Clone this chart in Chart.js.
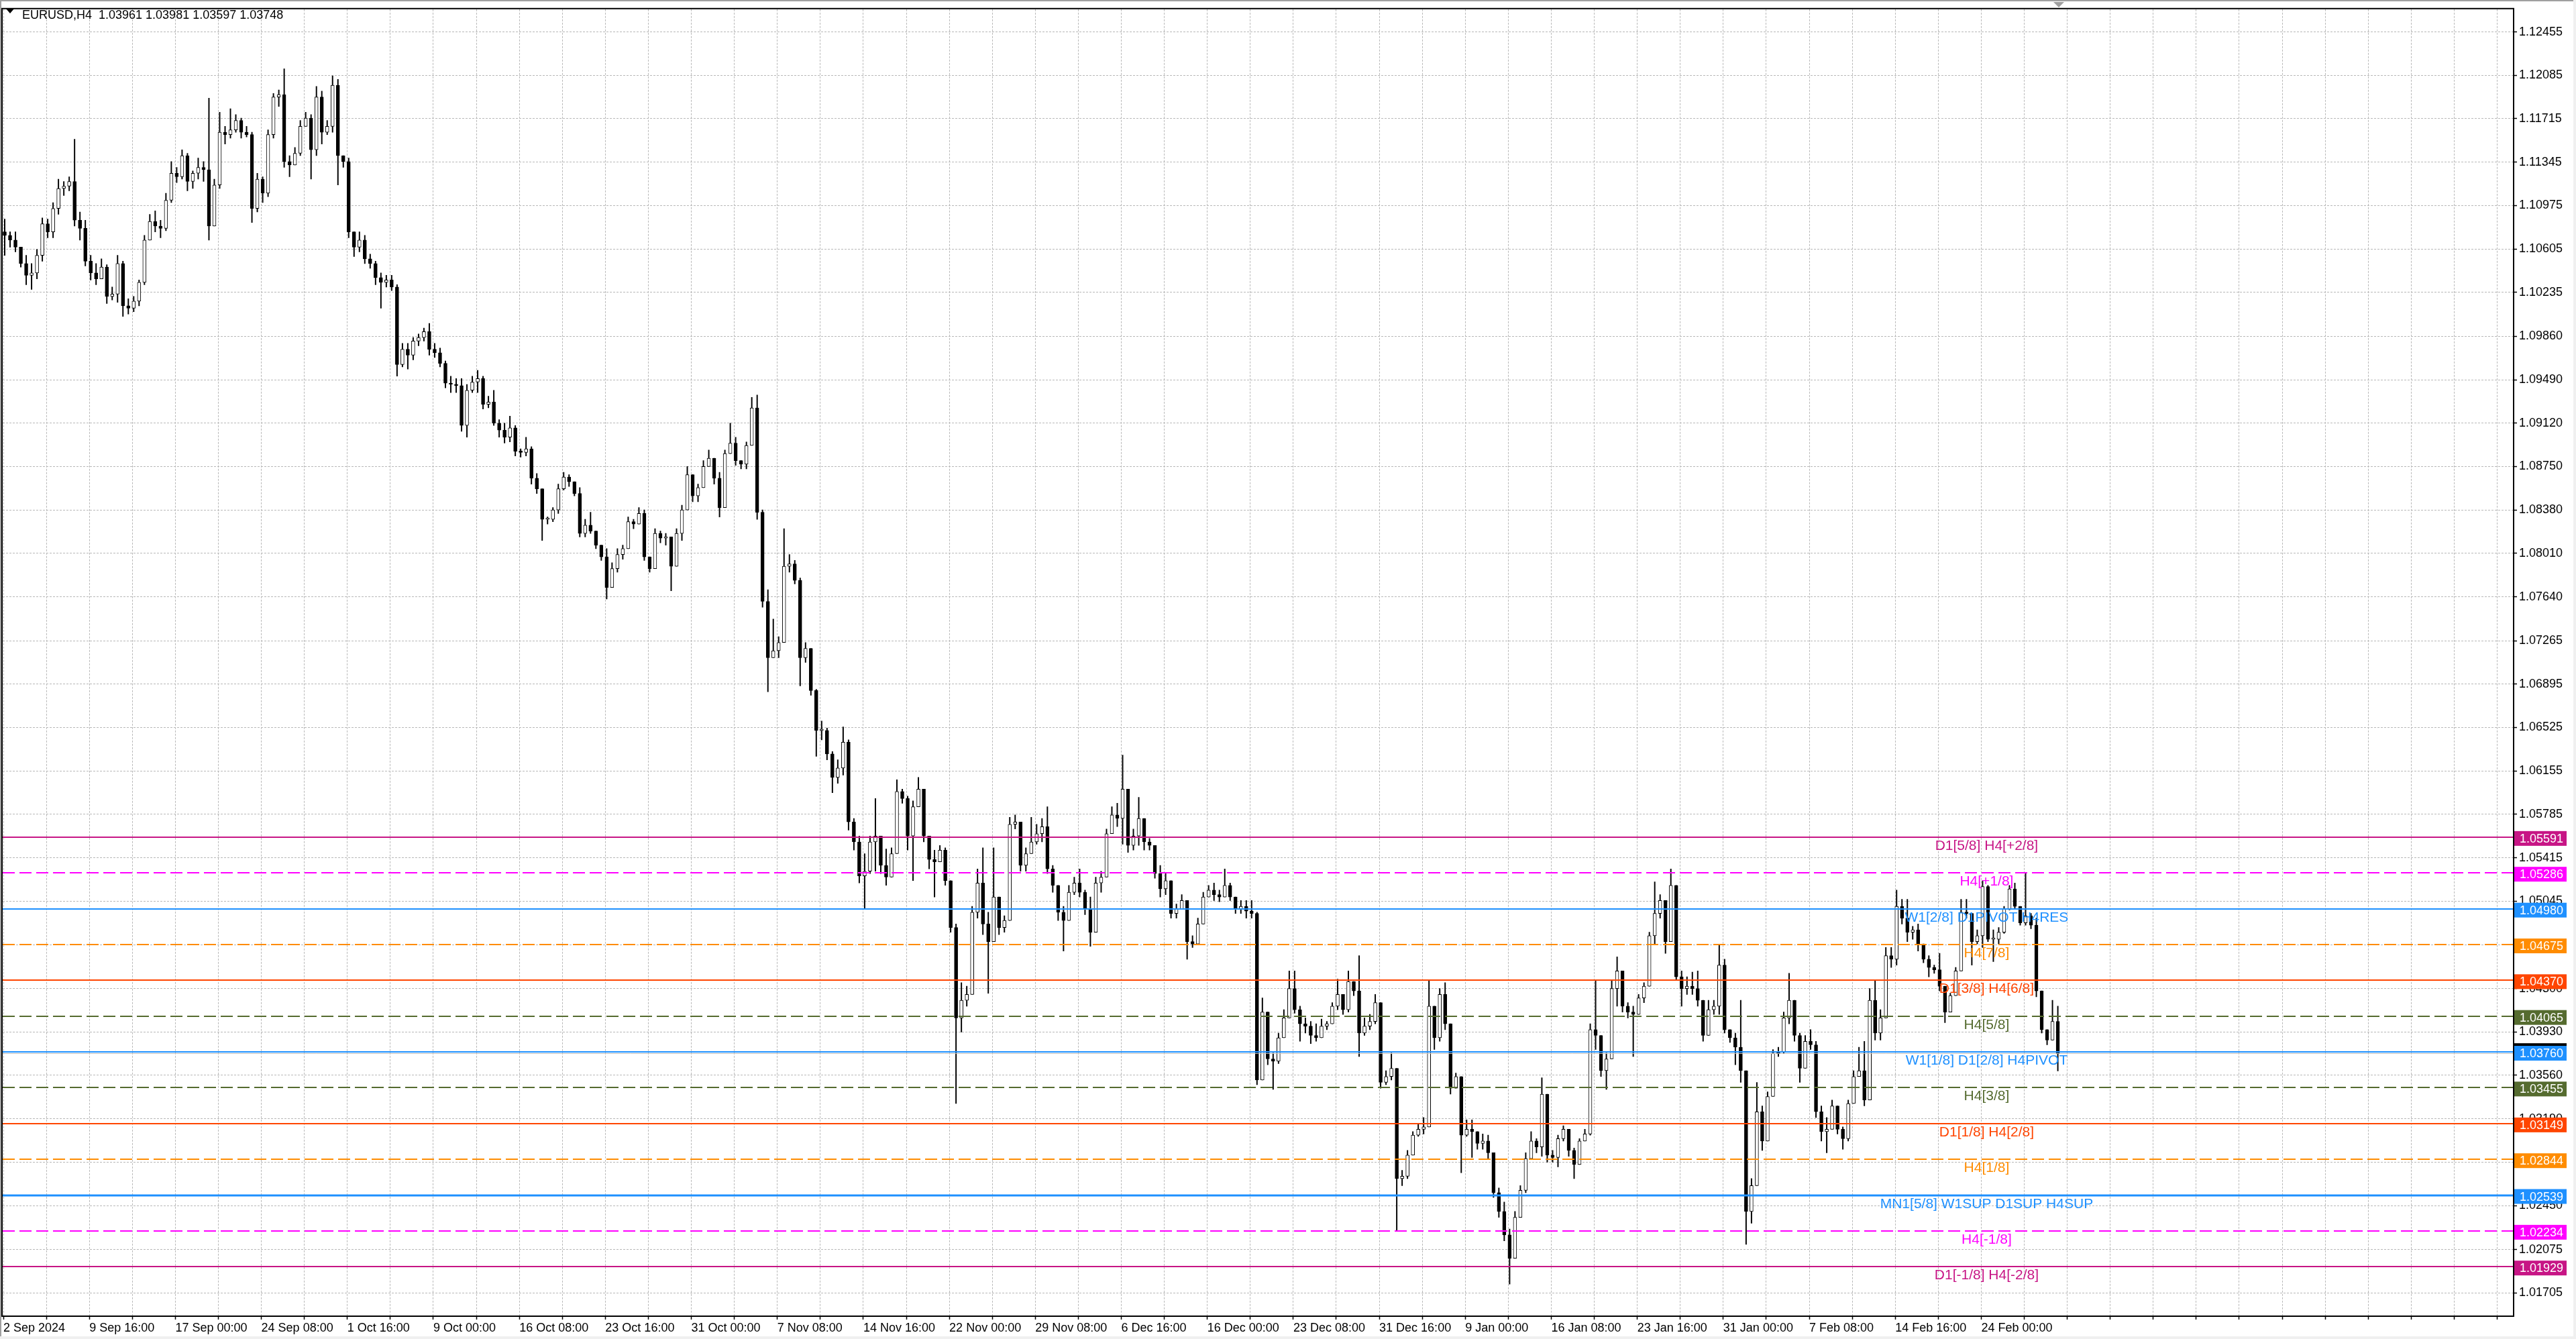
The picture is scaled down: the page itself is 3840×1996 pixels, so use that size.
<!DOCTYPE html>
<html>
<head>
<meta charset="utf-8">
<title>EURUSD,H4</title>
<script src="https://cdn.jsdelivr.net/npm/chart.js@4.4.1/dist/chart.umd.min.js"></script>
<style>
  html, body { margin: 0; padding: 0; background: #fff; overflow: hidden; }
  canvas { display: block; }
</style>
</head>
<body>
<canvas id="chart" width="3840" height="1996"></canvas>
<script>
// header of the chart window
const symbol = 'EURUSD,H4';
const lastBarOHLC = [1.03961, 1.03981, 1.03597, 1.03748];

// time axis labels, one every 32 H4 bars
const dateLabels = ['2 Sep 2024', '9 Sep 16:00', '17 Sep 00:00', '24 Sep 08:00', '1 Oct 16:00', '9 Oct 00:00',
  '16 Oct 08:00', '23 Oct 16:00', '31 Oct 00:00', '7 Nov 08:00', '14 Nov 16:00', '22 Nov 00:00',
  '29 Nov 08:00', '6 Dec 16:00', '16 Dec 00:00', '23 Dec 08:00', '31 Dec 16:00', '9 Jan 00:00',
  '16 Jan 08:00', '23 Jan 16:00', '31 Jan 00:00', '7 Feb 08:00', '14 Feb 16:00', '24 Feb 00:00'];

// price scale labels
const priceTicks = [1.12455, 1.12085, 1.11715, 1.11345, 1.10975, 1.10605, 1.10235, 1.09860, 1.09490, 1.09120,
  1.08750, 1.08380, 1.08010, 1.07640, 1.07265, 1.06895, 1.06525, 1.06155, 1.05785, 1.05415, 1.05045,
  1.04675, 1.04300, 1.03930, 1.03560, 1.03190, 1.02820, 1.02450, 1.02075, 1.01705];

// candles, each one covers two H4 bars
const firstOpen = 1.1075;
const highs = [
  1.1086,1.1075,1.1075,1.1062,1.1055,1.1048,1.1060,1.1087,1.1086,1.1100,
  1.1120,1.1118,1.1122,1.1154,1.1092,1.1085,1.1055,1.1048,1.1052,1.1047,
  1.1028,1.1055,1.1050,1.1018,1.1020,1.1034,1.1072,1.1090,1.1093,1.1085,
  1.1108,1.1135,1.1130,1.1145,1.1142,1.1127,1.1138,1.1135,1.1189,1.1120,
  1.1177,1.1165,1.1180,1.1175,1.1172,1.1165,1.1160,1.1125,1.1122,1.1162,
  1.1193,1.1196,1.1214,1.1140,1.1147,1.1170,1.1177,1.1175,1.1199,1.1195,
  1.1170,1.1208,1.1205,1.1140,1.1138,1.1075,1.1075,1.1072,1.1056,1.1050,
  1.1040,1.1038,1.1038,1.1030,1.0980,1.0980,1.0985,1.0988,1.0993,1.0997,
  1.0980,1.0976,1.0965,1.0952,1.0950,1.0950,1.0945,1.0952,1.0957,1.0952,
  1.0935,1.0940,1.0915,1.0912,1.0918,1.0910,1.0890,1.0900,1.0892,1.0869,
  1.0855,1.0832,1.0840,1.0860,1.0870,1.0868,1.0860,1.0857,1.0830,1.0836,
  1.0820,1.0808,1.0805,1.0793,1.0805,1.0808,1.0832,1.0830,1.0840,1.0838,
  1.0792,1.0822,1.0820,1.0818,1.0815,1.0822,1.0842,1.0875,1.0866,1.0860,
  1.0880,1.0889,1.0882,1.0870,1.0889,1.0912,1.0900,1.0880,1.0896,1.0934,
  1.0936,1.0838,1.0770,1.0745,1.0730,1.0822,1.0800,1.0795,1.0780,1.0725,
  1.0718,1.0685,1.0658,1.0652,1.0632,1.0625,1.0653,1.0642,1.0575,1.0560,
  1.0545,1.0560,1.0592,1.0552,1.0549,1.0550,1.0608,1.0600,1.0594,1.0590,
  1.0610,1.0600,1.0555,1.0548,1.0552,1.0550,1.0522,1.0485,1.0435,1.0432,
  1.0500,1.0532,1.0550,1.0495,1.0550,1.0500,1.0492,1.0576,1.0578,1.0560,
  1.0550,1.0576,1.0570,1.0575,1.0585,1.0535,1.0518,1.0500,1.0518,1.0525,
  1.0532,1.0514,1.0508,1.0525,1.0530,1.0566,1.0585,1.0588,1.0629,1.0560,
  1.0566,1.0593,1.0566,1.0558,1.0535,1.0535,1.0528,1.0512,1.0502,1.0510,
  1.0500,1.0475,1.0490,1.0512,1.0518,1.0520,1.0514,1.0532,1.0520,1.0508,
  1.0505,1.0505,1.0505,1.0495,1.0422,1.0400,1.0375,1.0392,1.0412,1.0445,
  1.0445,1.0415,1.0405,1.0402,1.0400,1.0404,1.0402,1.0418,1.0438,1.0420,
  1.0445,1.0434,1.0458,1.0405,1.0408,1.0425,1.0418,1.0360,1.0375,1.0360,
  1.0275,1.0292,1.0308,1.0315,1.0320,1.0437,1.0395,1.0430,1.0435,1.0370,
  1.0358,1.0340,1.0318,1.0318,1.0308,1.0306,1.0305,1.0290,1.0260,1.0248,
  1.0225,1.0240,1.0262,1.0290,1.0308,1.0302,1.0354,1.0295,1.0292,1.0305,
  1.0313,1.0302,1.0294,1.0302,1.0310,1.0400,1.0437,1.0380,1.0375,1.0437,
  1.0457,1.0432,1.0418,1.0415,1.0425,1.0435,1.0478,1.0521,1.0510,1.0488,
  1.0532,1.0510,1.0445,1.0440,1.0444,1.0445,1.0418,1.0420,1.0420,1.0467,
  1.0455,1.0395,1.0392,1.0420,1.0360,1.0268,1.0350,1.0330,1.0342,1.0378,
  1.0380,1.0410,1.0443,1.0405,1.0392,1.0390,1.0395,1.0385,1.0330,1.0320,
  1.0335,1.0325,1.0312,1.0335,1.0360,1.0380,1.0385,1.0430,1.0437,1.0412,
  1.0465,1.0465,1.0514,1.0506,1.0506,1.0483,1.0485,1.0465,1.0458,1.0450,
  1.0460,1.0430,1.0426,1.0448,1.0506,1.0506,1.0492,1.0480,1.0522,1.0518,
  1.0480,1.0482,1.0500,1.0518,1.0520,1.0500,1.0529,1.0494,1.0490,1.0428,
  1.0395,1.0420,1.0415
];
const lows = [
  1.1055,1.1062,1.1058,1.1045,1.1030,1.1026,1.1035,1.1050,1.1070,1.1070,
  1.1090,1.1106,1.1110,1.1080,1.1068,1.1046,1.1034,1.1030,1.1035,1.1014,
  1.1017,1.1015,1.1003,1.1005,1.1007,1.1012,1.1030,1.1068,1.1075,1.1070,
  1.1076,1.1100,1.1117,1.1120,1.1110,1.1112,1.1120,1.1118,1.1068,1.1080,
  1.1112,1.1150,1.1155,1.1160,1.1155,1.1156,1.1083,1.1092,1.1100,1.1105,
  1.1155,1.1182,1.1130,1.1122,1.1132,1.1140,1.1165,1.1120,1.1140,1.1150,
  1.1158,1.1160,1.1115,1.1130,1.1070,1.1054,1.1058,1.1048,1.1044,1.1030,
  1.1010,1.1028,1.1025,1.0952,1.0960,1.0958,1.0966,1.0978,1.0982,1.0970,
  1.0968,1.0960,1.0942,1.0938,1.0938,1.0905,1.0900,1.0938,1.0938,1.0924,
  1.0925,1.0910,1.0900,1.0895,1.0896,1.0884,1.0883,1.0884,1.0860,1.0852,
  1.0812,1.0826,1.0828,1.0835,1.0855,1.0858,1.0850,1.0815,1.0815,1.0818,
  1.0805,1.0795,1.0762,1.0772,1.0785,1.0796,1.0805,1.0822,1.0826,1.0795,
  1.0785,1.0790,1.0810,1.0808,1.0769,1.0805,1.0812,1.0855,1.0845,1.0845,
  1.0864,1.0876,1.0860,1.0832,1.0866,1.0888,1.0876,1.0873,1.0873,1.0894,
  1.0830,1.0755,1.0683,1.0712,1.0712,1.0730,1.0785,1.0775,1.0688,1.0708,
  1.0680,1.0628,1.0642,1.0625,1.0597,1.0605,1.0612,1.0565,1.0548,1.0520,
  1.0498,1.0528,1.0530,1.0528,1.0518,1.0538,1.0565,1.0588,1.0548,1.0522,
  1.0588,1.0555,1.0532,1.0508,1.0542,1.0518,1.0478,1.0332,1.0393,1.0415,
  1.0452,1.0490,1.0476,1.0426,1.0494,1.0476,1.0478,1.0515,1.0566,1.0530,
  1.0530,1.0548,1.0553,1.0555,1.0528,1.0512,1.0488,1.0462,1.0505,1.0510,
  1.0508,1.0493,1.0466,1.0508,1.0512,1.0525,1.0568,1.0568,1.0553,1.0546,
  1.0548,1.0552,1.0548,1.0548,1.0524,1.0508,1.0510,1.0490,1.0490,1.0500,
  1.0455,1.0465,1.0475,1.0490,1.0508,1.0505,1.0504,1.0510,1.0505,1.0494,
  1.0494,1.0490,1.0490,1.0348,1.0380,1.0365,1.0344,1.0366,1.0388,1.0405,
  1.0409,1.0385,1.0392,1.0383,1.0385,1.0390,1.0395,1.0400,1.0412,1.0408,
  1.0410,1.0424,1.0372,1.0390,1.0395,1.0400,1.0345,1.0348,1.0352,1.0223,
  1.0262,1.0268,1.0288,1.0304,1.0306,1.0315,1.0378,1.0385,1.0395,1.0340,
  1.0350,1.0273,1.0304,1.0286,1.0293,1.0293,1.0285,1.0252,1.0235,1.0215,
  1.0178,1.0215,1.0240,1.0256,1.0292,1.0290,1.0287,1.0282,1.0282,1.0278,
  1.0300,1.0287,1.0268,1.0287,1.0300,1.0305,1.0378,1.0355,1.0344,1.0415,
  1.0415,1.0410,1.0405,1.0372,1.0412,1.0418,1.0443,1.0468,1.0490,1.0460,
  1.0474,1.0437,1.0415,1.0425,1.0425,1.0415,1.0385,1.0400,1.0408,1.0408,
  1.0392,1.0384,1.0365,1.0350,1.0212,1.0230,1.0265,1.0292,1.0316,1.0340,
  1.0372,1.0375,1.0400,1.0385,1.0350,1.0370,1.0378,1.0320,1.0300,1.0290,
  1.0316,1.0306,1.0293,1.0300,1.0340,1.0355,1.0330,1.0335,1.0386,1.0386,
  1.0405,1.0448,1.0450,1.0485,1.0470,1.0472,1.0462,1.0452,1.0440,1.0443,
  1.0428,1.0401,1.0418,1.0437,1.0447,1.0490,1.0450,1.0468,1.0465,1.0470,
  1.0453,1.0468,1.0477,1.0497,1.0498,1.0484,1.0484,1.0481,1.0423,1.0392,
  1.0382,1.0388,1.03597
];
const closes = [
  1.1072,1.1068,1.1062,1.1048,1.1038,1.1040,1.1055,1.1082,1.1075,1.1095,
  1.1112,1.1114,1.1118,1.1085,1.1078,1.1050,1.1040,1.1035,1.1045,1.1020,
  1.1022,1.1048,1.1012,1.1010,1.1016,1.1032,1.1068,1.1084,1.1080,1.1078,
  1.1102,1.1125,1.1122,1.1140,1.1118,1.1125,1.1130,1.1128,1.1080,1.1115,
  1.1160,1.1158,1.1162,1.1170,1.1160,1.1158,1.1095,1.1120,1.1108,1.1158,
  1.1190,1.1192,1.1135,1.1132,1.1142,1.1165,1.1172,1.1145,1.1190,1.1160,
  1.1165,1.1200,1.1140,1.1135,1.1075,1.1062,1.1068,1.1052,1.1048,1.1036,
  1.1032,1.1034,1.1028,1.0962,1.0975,1.0970,1.0982,1.0985,1.0990,1.0975,
  1.0972,1.0963,1.0946,1.0945,1.0944,1.0910,1.0940,1.0947,1.0950,1.0928,
  1.0930,1.0912,1.0906,1.0900,1.0908,1.0888,1.0887,1.0890,1.0865,1.0856,
  1.0830,1.0830,1.0838,1.0856,1.0866,1.0862,1.0852,1.0818,1.0825,1.0820,
  1.0808,1.0798,1.0772,1.0788,1.0800,1.0805,1.0828,1.0826,1.0835,1.0798,
  1.0788,1.0818,1.0814,1.0815,1.0790,1.0818,1.0838,1.0868,1.0850,1.0857,
  1.0875,1.0882,1.0865,1.0840,1.0886,1.0895,1.0880,1.0877,1.0893,1.0925,
  1.0836,1.0760,1.0712,1.0718,1.0725,1.0790,1.0792,1.0778,1.0712,1.0720,
  1.0684,1.0650,1.0650,1.0630,1.0610,1.0618,1.0640,1.0572,1.0555,1.0526,
  1.0530,1.0555,1.0560,1.0535,1.0525,1.0545,1.0598,1.0592,1.0560,1.0585,
  1.0600,1.0560,1.0540,1.0538,1.0548,1.0522,1.0482,1.0405,1.0420,1.0425,
  1.0495,1.0520,1.0485,1.0470,1.0508,1.0482,1.0488,1.0570,1.0572,1.0535,
  1.0545,1.0555,1.0562,1.0568,1.0532,1.0518,1.0495,1.0488,1.0512,1.0520,
  1.0512,1.0498,1.0478,1.0520,1.0525,1.0562,1.0578,1.0575,1.0600,1.0552,
  1.0560,1.0575,1.0555,1.0552,1.0528,1.0515,1.0522,1.0494,1.0498,1.0505,
  1.0470,1.0468,1.0485,1.0508,1.0514,1.0510,1.0508,1.0518,1.0508,1.0498,
  1.0500,1.0496,1.0494,1.0352,1.0410,1.0370,1.0368,1.0388,1.0405,1.0430,
  1.0412,1.0400,1.0398,1.0390,1.0388,1.0398,1.0400,1.0415,1.0425,1.0412,
  1.0436,1.0428,1.0392,1.0398,1.0402,1.0418,1.0350,1.0355,1.0362,1.0268,
  1.0270,1.0288,1.0305,1.0310,1.0312,1.0415,1.0388,1.0425,1.0400,1.0345,
  1.0355,1.0305,1.0310,1.0308,1.0298,1.0300,1.0290,1.0256,1.0240,1.0220,
  1.0200,1.0235,1.0258,1.0285,1.0300,1.0295,1.0340,1.0288,1.0286,1.0302,
  1.0310,1.0292,1.0280,1.0300,1.0306,1.0395,1.0390,1.0360,1.0370,1.0430,
  1.0445,1.0415,1.0410,1.0408,1.0422,1.0432,1.0475,1.0494,1.0505,1.0470,
  1.0518,1.0440,1.0430,1.0432,1.0430,1.0420,1.0390,1.0412,1.0415,1.0450,
  1.0395,1.0388,1.0380,1.0360,1.0240,1.0262,1.0325,1.0300,1.0338,1.0375,
  1.0376,1.0405,1.0420,1.0390,1.0362,1.0385,1.0382,1.0325,1.0308,1.0310,
  1.0330,1.0310,1.0302,1.0332,1.0355,1.0360,1.0335,1.0420,1.0392,1.0405,
  1.0458,1.0455,1.0500,1.0490,1.0478,1.0480,1.0468,1.0455,1.0448,1.0446,
  1.0432,1.0410,1.0424,1.0445,1.0495,1.0494,1.0470,1.0475,1.0517,1.0472,
  1.0472,1.0478,1.0498,1.0515,1.0500,1.0486,1.0492,1.0484,1.0428,1.0395,
  1.0386,1.0402,1.03748
];

// Murrey math levels drawn by the indicator
const levelPrices = [1.05591, 1.05286, 1.04980, 1.04675, 1.04370, 1.04065, 1.03760,
  1.03455, 1.03149, 1.02844, 1.02539, 1.02234, 1.01929];
const levelNames = ['D1[5/8] H4[+2/8]', 'H4[+1/8]', 'W1[2/8] D1PIVOT H4RES', 'H4[7/8]',
  'D1[3/8] H4[6/8]', 'H4[5/8]', 'W1[1/8] D1[2/8] H4PIVOT', 'H4[3/8]', 'D1[1/8] H4[2/8]',
  'H4[1/8]', 'MN1[5/8] W1SUP D1SUP H4SUP', 'H4[-1/8]', 'D1[-1/8] H4[-2/8]'];
const bidPrice = 1.03748;

// styles for the levels
const levelColors = ['#C71585', '#FF00FF', '#1E90FF', '#FF8C00', '#FF4500', '#556B2F', '#1E90FF',
  '#556B2F', '#FF4500', '#FF8C00', '#1E90FF', '#FF00FF', '#C71585'];
const levelDashed = [false, true, false, true, false, true, false, true, false, true, false, true, false];
const levelWidths = [1.8, 1.8, 1.8, 1.8, 1.8, 1.8, 1.8, 1.8, 1.8, 1.8, 3, 1.8, 1.8];

const FONT = '"Liberation Sans", Arial, sans-serif';
const LABEL_BAR = 738;   // where the level names sit on the time axis

const opens = closes.map((c, i) => i === 0 ? firstOpen : closes[i - 1]);
const barX = i => 2 * i + 0.5;

const overlay = {
  id: 'overlay',
  afterDatasetsDraw(chart) {
    const {ctx, chartArea: a, scales: {x, y}} = chart;
    ctx.save();
    ctx.beginPath();
    ctx.rect(a.left, a.top, a.right - a.left, a.bottom - a.top);
    ctx.clip();

    // bid line
    const by = Math.round(y.getPixelForValue(bidPrice)) + 0.5;
    ctx.strokeStyle = '#c0c0c0';
    ctx.lineWidth = 1;
    ctx.beginPath(); ctx.moveTo(a.left, by); ctx.lineTo(a.right, by); ctx.stroke();

    const lx = x.getPixelForValue(LABEL_BAR);
    levelPrices.forEach((p, i) => {
      const py = Math.round(y.getPixelForValue(p));
      ctx.strokeStyle = levelColors[i];
      ctx.lineWidth = levelWidths[i];
      ctx.setLineDash(levelDashed[i] ? [18, 7] : []);
      ctx.beginPath(); ctx.moveTo(a.left, py); ctx.lineTo(a.right, py); ctx.stroke();
      ctx.setLineDash([]);
      ctx.font = '21px ' + FONT;
      ctx.textAlign = 'center';
      ctx.textBaseline = 'alphabetic';
      ctx.fillStyle = levelColors[i];
      ctx.fillText(levelNames[i], lx, py + 19);
    });
    ctx.restore();
  },
  afterDraw(chart) {
    const {ctx, chartArea: a, scales: {y}} = chart;
    ctx.save();

    // frame of the chart window
    ctx.strokeStyle = '#000';
    ctx.lineWidth = 2;
    ctx.strokeRect(a.left - 1, a.top - 1, a.right - a.left + 1, a.bottom - a.top + 1);
    ctx.strokeStyle = '#a0a0a0';
    ctx.beginPath(); ctx.moveTo(0, 1); ctx.lineTo(3840, 1); ctx.moveTo(1, 0); ctx.lineTo(1, 1996); ctx.stroke();
    ctx.fillStyle = '#f0f0f0';
    ctx.fillRect(3836, 0, 4, 1996);
    ctx.fillRect(0, 1992, 3840, 4);

    // chart shift marker
    ctx.fillStyle = '#a0a0a0';
    ctx.beginPath(); ctx.moveTo(3061, 3); ctx.lineTo(3077, 3); ctx.lineTo(3069, 11); ctx.closePath(); ctx.fill();

    // price boxes on the right scale
    ctx.font = '18px ' + FONT;
    ctx.textAlign = 'left';
    ctx.textBaseline = 'middle';
    const boxX = a.right + 1;
    const boxW = 78, boxH = 22;
    const bpy = y.getPixelForValue(bidPrice);
    ctx.fillStyle = '#000';
    ctx.fillRect(boxX, bpy - boxH / 2 - 4, boxW, boxH);
    levelPrices.forEach((p, i) => {
      const py = y.getPixelForValue(p) + 2;
      ctx.fillStyle = levelColors[i];
      ctx.fillRect(boxX, py - boxH / 2, boxW, boxH);
      ctx.fillStyle = '#fff';
      ctx.fillText(p.toFixed(5), a.right + 9, py + 1);
    });

    // header
    ctx.fillStyle = '#000';
    ctx.beginPath(); ctx.moveTo(9, 13); ctx.lineTo(21, 13); ctx.lineTo(15, 20); ctx.closePath(); ctx.fill();
    ctx.font = '18px ' + FONT;
    ctx.textBaseline = 'alphabetic';
    ctx.fillText(symbol + '  ' + lastBarOHLC.map(v => v.toFixed(5)).join(' '), 33, 28);
    ctx.restore();
  }
};

new Chart(document.getElementById('chart'), {
  type: 'bar',
  data: {
    datasets: [
      {
        label: 'body',
        data: closes.map((c, i) => ({x: barX(i), y: [opens[i], c]})),
        backgroundColor: closes.map((c, i) => c >= opens[i] ? '#ffffff' : '#000000'),
        borderColor: '#000',
        borderWidth: 1,
        borderSkipped: false,
        barThickness: 5,
        minBarLength: 2,
        grouped: false,
        order: 0
      },
      {
        label: 'wick',
        data: highs.map((h, i) => ({
          x: barX(i),
          y: [Math.min(lows[i], opens[i], closes[i]), Math.max(h, opens[i], closes[i])]
        })),
        backgroundColor: '#000',
        barThickness: 1.3,
        grouped: false,
        order: 1
      }
    ]
  },
  options: {
    responsive: false,
    animation: false,
    devicePixelRatio: 1,
    layout: {padding: {left: 4, top: 6, right: 0, bottom: 0}},
    plugins: {legend: {display: false}, tooltip: {enabled: false}},
    scales: {
      x: {
        type: 'linear',
        offset: false,
        min: -0.25,
        max: 934.1,
        afterBuildTicks: s => {
          s.ticks = [];
          for (let b = 0; b <= 928; b += 16) s.ticks.push({value: b});
        },
        afterFit: s => { s.height = 34; },
        grid: {color: '#b8b8b8', lineWidth: 1, offset: false, tickLength: 5, tickColor: '#000', tickWidth: 1.5},
        border: {display: true, color: '#000', width: 2, dash: [3, 2]},
        ticks: {
          autoSkip: false,
          maxRotation: 0,
          align: 'start',
          padding: 2,
          color: '#000',
          font: {family: FONT, size: 18},
          callback: v => (v % 32 === 0 && v / 32 < dateLabels.length) ? dateLabels[v / 32] : ''
        }
      },
      y: {
        type: 'linear',
        position: 'right',
        beginAtZero: false,
        min: 1.01507,
        max: 1.12648,
        afterBuildTicks: s => { s.ticks = priceTicks.map(v => ({value: v})); },
        afterFit: s => { s.width = 93; },
        grid: {color: '#b8b8b8', lineWidth: 1, tickLength: 5, tickColor: '#000', tickWidth: 1.5},
        border: {display: true, color: '#000', width: 2, dash: [3, 2]},
        ticks: {
          autoSkip: false,
          padding: 3,
          color: '#000',
          font: {family: FONT, size: 18},
          callback: v => v.toFixed(5)
        }
      }
    }
  },
  plugins: [overlay]
});
</script>
</body>
</html>
